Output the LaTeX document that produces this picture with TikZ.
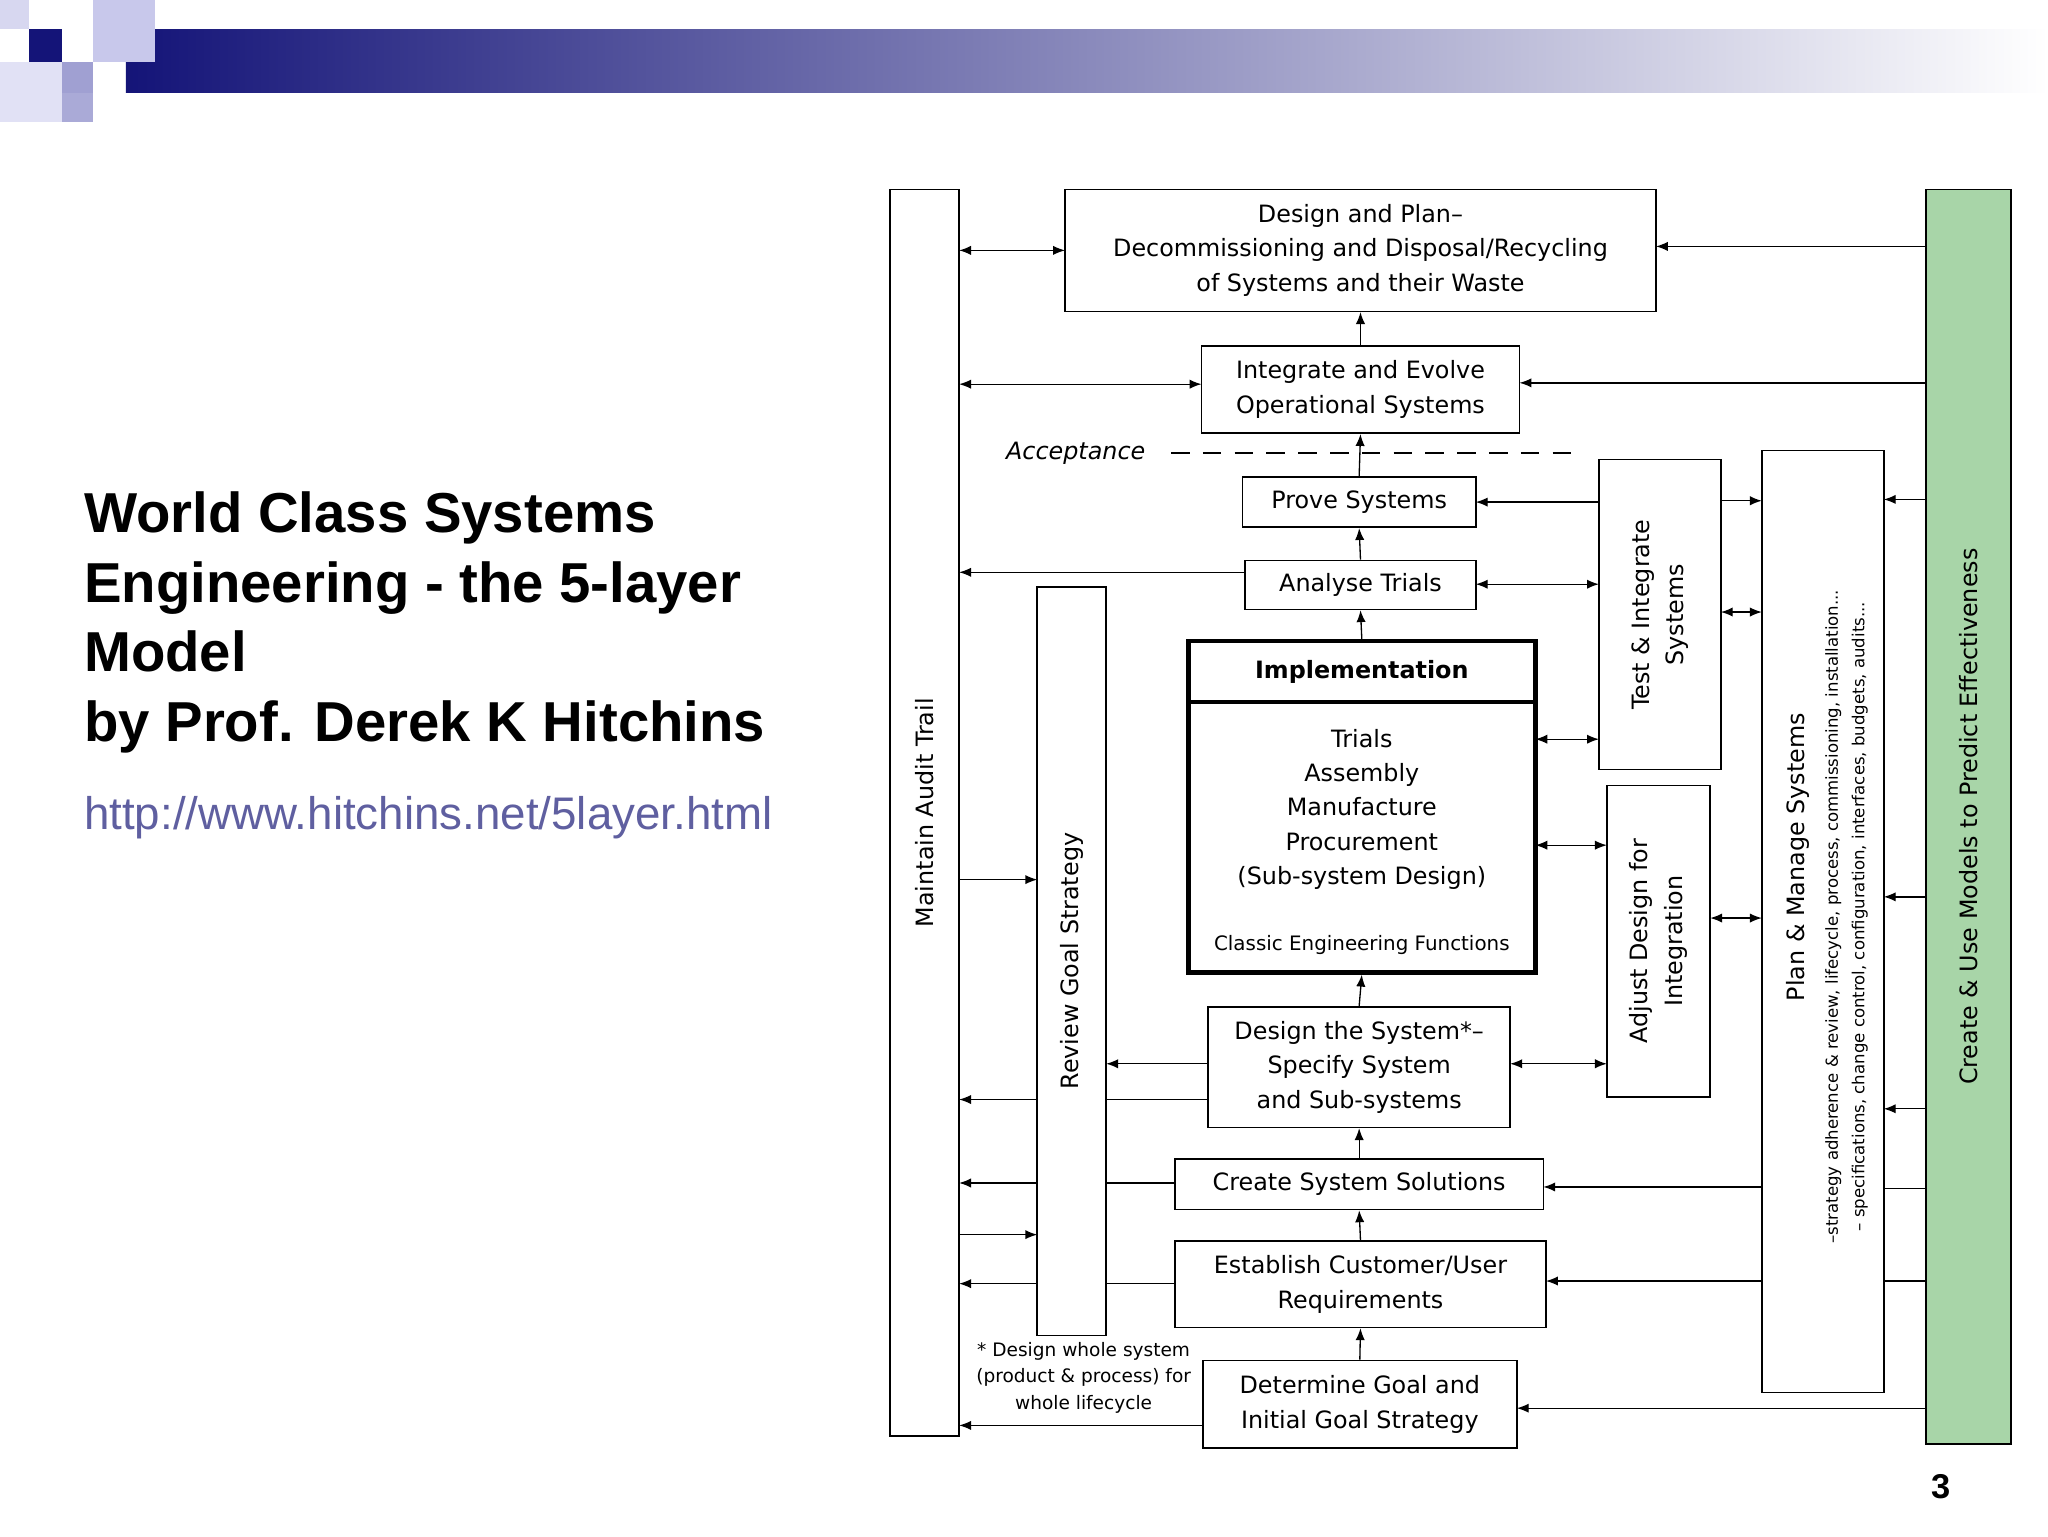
\documentclass[tikz,border=0pt]{standalone}
\usepackage{fontspec}
\setmainfont{DejaVu Sans}
\newfontfamily\ttl{Liberation Sans}
\usetikzlibrary{arrows.meta,calc}
\definecolor{navy}{RGB}{20,20,120}
\definecolor{sqa}{RGB}{215,215,240}
\definecolor{sqb}{RGB}{200,200,235}
\definecolor{sqc}{RGB}{225,225,245}
\definecolor{sqd}{RGB}{160,160,210}
\definecolor{sqe}{RGB}{170,170,215}
\definecolor{urlc}{RGB}{95,95,160}
\definecolor{grn}{RGB}{168,213,168}
\newcommand{\dg}{\fontsize{18}{26}\selectfont}
\newcommand{\bx}[6]{\node[box,minimum width={(#4-#2)*1pt},minimum height={(#5-#3)*1pt}] (#1) at ({(#2+#4)/2},{(#3+#5)/2}) {#6};}
\newcommand{\vbx}[7]{\node[box,#7,minimum width={(#4-#2)*1pt},minimum height={(#5-#3)*1pt}] (#1) at ({(#2+#4)/2},{(#3+#5)/2}) {};
\node[rotate=90,font=\dg,align=center] at (#1) {#6};}
\begin{document}
\begin{tikzpicture}[x=1pt,y=-1pt,
  box/.style={draw,line width=1.2pt,fill=white,inner sep=0pt,align=center,font=\dg},
  ar/.style={-{Latex[length=9pt,width=7pt]},line width=1pt},
  dar/.style={{Latex[length=9pt,width=7pt]}-{Latex[length=9pt,width=7pt]},line width=1pt},
  ln/.style={line width=1pt}]
\useasboundingbox (0,0) rectangle (1546,1160);
% banner
\shade[left color=navy,right color=white] (95,22) rectangle (1546,70);
\fill[sqa] (0,0) rectangle (22,22);
\fill[sqb] (70,0) rectangle (117,47);
\fill[navy] (22,22) rectangle (47,47);
\fill[sqc] (0,47) rectangle (47,92);
\fill[sqd] (47,47) rectangle (70,70);
\fill[sqe] (47,70) rectangle (70,92);
% title
\node[anchor=west,align=left,font=\ttl\fontsize{42.5}{52.5}\selectfont\bfseries] (title) at (60,470) {World Class Systems\\Engineering - the 5-layer\\Model\\by Prof. Derek K Hitchins};
\node[anchor=west,font=\ttl\fontsize{34.5}{40}\selectfont,text=urlc] (url) at (60,617) {http://www.hitchins.net/5layer.html};
\node[font=\ttl\fontsize{26}{30}\selectfont\bfseries] (pg) at (1465,1122) {3};
% lines behind boxes
\draw[ar] (912,830) -- (724,830);
\draw[ar] (887,893) -- (724,893);
\draw[ar] (887,969) -- (724,969);
\draw[ar] (940,432) -- (724,432);
\draw[ln] (1454,897) -- (1422,897);
\draw[ln] (1454,967) -- (1422,967);
% big boxes
\vbx{audit}{672}{143}{724}{1084}{Maintain Audit Trail}{}
\vbx{models}{1454}{143}{1518}{1090}{Create \& Use Models to Predict Effectiveness}{fill=grn}
\vbx{review}{783}{443}{835}{1008}{Review Goal Strategy}{}
\vbx{test}{1207}{347}{1299}{581}{Test \& Integrate\\Systems}{}
\vbx{adjust}{1213}{593}{1291}{828}{Adjust Design for\\Integration}{}
\node[box,minimum width=92pt,minimum height=711pt] (plan) at (1376,695.5) {};
\node[rotate=90,font=\dg] (plant) at (1357,647) {Plan \& Manage Systems};
\node[rotate=90,font=\fontsize{12.5}{15}\selectfont] (pl1) at (1384,692) {--strategy adherence \& review, lifecycle, process, commissioning, installation...};
\node[rotate=90,font=\fontsize{12.5}{15}\selectfont] (pl2) at (1404,692) {-- specifications, change control, configuration, interfaces, budgets, audits...};
% center boxes
\bx{dp}{804}{143}{1250}{235}{Design and Plan--\\Decommissioning and Disposal/Recycling\\of Systems and their Waste}
\bx{ie}{907}{261}{1147}{327}{Integrate and Evolve\\Operational Systems}
\bx{prove}{938}{360}{1114}{398}{Prove Systems}
\bx{analyse}{940}{423}{1114}{460}{Analyse Trials}
\node[draw,line width=3.5pt,minimum width=262pt,minimum height=250pt,inner sep=0] (impl) at (1028,609) {};
\draw[line width=3pt] (897,530) -- (1159,530);
\node[font=\dg\bfseries] (implh) at (1028,507) {Implementation};
\node[font=\dg,align=center] (implt) at (1028,611) {Trials\\Assembly\\Manufacture\\Procurement\\(Sub-system Design)};
\node[font=\fontsize{15}{18}\selectfont] (implc) at (1028,713) {Classic Engineering Functions};
\bx{ds}{912}{760}{1140}{851}{Design the System*--\\Specify System\\and Sub-systems}
\bx{cs}{887}{875}{1165}{913}{Create System Solutions}
\bx{ec}{887}{937}{1167}{1002}{Establish Customer/User\\Requirements}
\bx{dg}{908}{1027}{1145}{1093}{Determine Goal and\\Initial Goal Strategy}
\node[font=\fontsize{14}{20}\selectfont,align=center] (fn) at (818,1040) {* Design whole system\\(product \& process) for\\whole lifecycle};
% acceptance
\draw[ln,dash pattern=on 14pt off 10pt] (884,342) -- (1195,342);
\node[font=\dg\itshape] (acc) at (812,342) {Acceptance};
% vertical arrows
\draw[ar] (ie.north) -- (dp.south);
\draw[ar] (prove.north) -- (ie.south);
\draw[ar] (analyse.north) -- (prove.south);
\draw[ar] (impl.north) -- (analyse.south);
\draw[ar] (ds.north) -- (impl.south);
\draw[ar] (cs.north) -- (ds.south);
\draw[ar] (ec.north) -- (cs.south);
\draw[ar] (dg.north) -- (ec.south);
% horizontals
\draw[dar] (724,189) -- (804,189);
\draw[ar] (1454,186) -- (1250,186);
\draw[dar] (724,290) -- (907,290);
\draw[ar] (1454,289) -- (1147,289);
\draw[ar] (1207,379) -- (1114,379);
\draw[ar] (1299,378) -- (1330,378);
\draw[ar] (1454,377) -- (1422,377);
\draw[dar] (1114,441) -- (1207,441);
\draw[dar] (1299,462) -- (1330,462);
\draw[dar] (1159,558) -- (1207,558);
\draw[dar] (1159,638) -- (1213,638);
\draw[dar] (1291,693) -- (1330,693);
\draw[ar] (1454,677) -- (1422,677);
\draw[ar] (724,664) -- (783,664);
\draw[ar] (912,803) -- (835,803);
\draw[dar] (1140,803) -- (1213,803);
\draw[ar] (1454,837) -- (1422,837);
\draw[ar] (1330,896) -- (1165,896);
\draw[ar] (724,932) -- (783,932);
\draw[ar] (1330,967) -- (1167,967);
\draw[ar] (908,1076) -- (724,1076);
\draw[ar] (1454,1063) -- (1145,1063);
\end{tikzpicture}
\end{document}
